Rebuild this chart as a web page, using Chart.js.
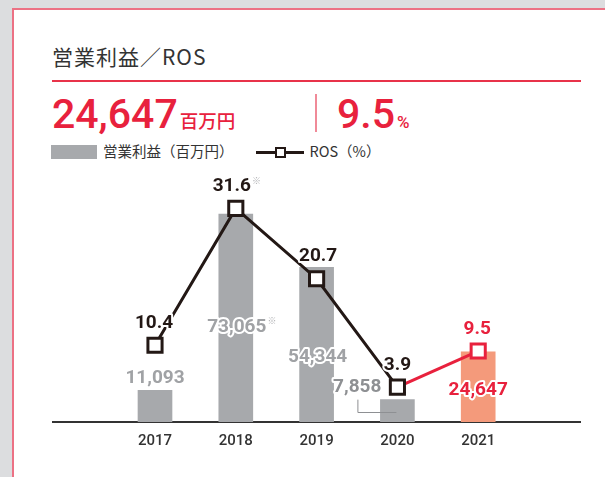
<!DOCTYPE html>
<html>
<head>
<meta charset="utf-8">
<script src="https://cdn.jsdelivr.net/npm/chart.js@4.4.0/dist/chart.umd.min.js"></script>
<style>
  html, body { margin: 0; padding: 0; }
  body {
    width: 605px;
    height: 477px;
    overflow: hidden;
    background: #dcdddf;
    position: relative;
    font-family: "Noto Sans CJK JP", "Noto Sans", sans-serif;
  }
  #card {
    position: absolute;
    left: 12px;
    top: 8px;
    width: 700px;
    height: 600px;
    background: #fff;
    border: 2px solid #ec7184;
  }
  .abs { position: absolute; white-space: nowrap; }
  #title { left: 52px; top: 46px; font-size: 21px; line-height: 21px; color: #333; letter-spacing: 1px; }
  #rule { left: 52px; top: 80px; width: 529px; height: 1.5px; background: #e8334a; }
  .kpi { top: 94px; line-height: 40px; color: #e8213d; }
  .kpi .num { font-family: Roboto, sans-serif; font-weight: 500; font-size: 41px; }
  .kpi .unit { font-size: 18.5px; font-weight: 500; margin-left: 2px; }
  .kpi .pct { font-family: Roboto, sans-serif; font-size: 17px; font-weight: 500; margin-left: 2px; }
  #kpiProfit { left: 52px; }
  #kpiRos { left: 337px; }
  #divider { left: 315px; top: 94px; width: 1.5px; height: 38px; background: #f08a98; }
  #legend { left: 51px; top: 142px; font-size: 14.5px; line-height: 18px; color: #333; }
  #legend .box { display: inline-block; width: 46px; height: 14px; background: #a7a9ac; vertical-align: -2px; margin-right: 6px; }
  #legend .lineKey { display: inline-block; position: relative; width: 48px; height: 14px; vertical-align: -2px; margin-left: 22px; margin-right: 6px; }
  #legend .lineKey::before { content: ""; position: absolute; left: 0; right: 0; top: 6px; height: 3px; background: #231815; }
  #legend .lineKey::after { content: ""; position: absolute; left: 19px; top: 2px; width: 7px; height: 7px; border: 2.5px solid #231815; background: #fff; }
  #chart { position: absolute; left: 0; top: 160px; }
</style>
</head>
<body>
<div id="card"></div>
<div id="title" class="abs">営業利益／ROS</div>
<div id="rule" class="abs"></div>
<div id="kpiProfit" class="abs kpi"><span class="num">24,647</span><span class="unit">百万円</span></div>
<div id="divider" class="abs"></div>
<div id="kpiRos" class="abs kpi"><span class="num">9.5</span><span class="pct">%</span></div>
<div id="legend" class="abs"><span class="box"></span>営業利益（百万円）<span class="lineKey"></span>ROS（%）</div>
<canvas id="chart" width="605" height="317"></canvas>
<script>
const years = ["2017", "2018", "2019", "2020", "2021"];
const operatingProfit = [11093, 73065, 54344, 7858, 24647];
const rosValues = [10.4, 31.6, 20.7, 3.9, 9.5];
const notes = ["", "※", "", "", ""];

const GRAY = "#a7a9ac";
const SALMON = "#f49a7b";
const RED = "#e8213d";
const INK = "#231815";

// where each label sits relative to its bar top / point (px)
const profitLabelPlace = [
  { dx: 0, dy: -12, align: "center", color: "#a0a2a5" },
  { dx: 1, dy: 113, align: "center", color: "#a0a2a5" },
  { dx: 1, dy: 90, align: "center", color: "#a0a2a5" },
  { dx: -16, dy: -12, align: "right", color: "#8e9093" },
  { dx: 0, dy: 38, align: "center", color: RED },
];
const rosLabelPlace = [
  { dx: -1, color: INK },
  { dx: -4, color: INK },
  { dx: 1.5, color: INK },
  { dx: 0, color: INK },
  { dx: -1, color: RED },
];

function fmt(n) {
  return n.toLocaleString("en-US");
}

function haloText(ctx, text, x, y, color) {
  ctx.lineWidth = 4;
  ctx.lineJoin = "round";
  ctx.strokeStyle = "#fff";
  ctx.strokeText(text, x, y);
  ctx.fillStyle = color;
  ctx.fillText(text, x, y);
}

function drawNote(ctx, x, y) {
  ctx.save();
  ctx.font = "9px 'Noto Sans CJK JP'";
  ctx.textAlign = "left";
  ctx.fillStyle = "#b0b1b4";
  ctx.fillText("※", x + 1, y - 6);
  ctx.restore();
}

const labelPlugin = {
  id: "labels",
  beforeDatasetsDraw(chart) {
    // long base line under the bars
    const { ctx } = chart;
    const y0 = chart.scales.y.getPixelForValue(0);
    ctx.save();
    ctx.strokeStyle = "#333";
    ctx.lineWidth = 2;
    ctx.beginPath();
    ctx.moveTo(52, y0);
    ctx.lineTo(581, y0);
    ctx.stroke();
    ctx.restore();
  },
  afterDatasetsDraw(chart) {
    const { ctx } = chart;
    const bars = chart.getDatasetMeta(0).data;
    const pts = chart.getDatasetMeta(1).data;
    ctx.save();
    ctx.font = "bold 19px Roboto";
    ctx.textBaseline = "middle";

    // leader for the small 2020 bar label
    const b3 = bars[3];
    const yBase = chart.scales.y.getPixelForValue(0);
    ctx.strokeStyle = "#8e9093";
    ctx.lineWidth = 1;
    ctx.beginPath();
    ctx.moveTo(b3.x - 39.5, b3.y);
    ctx.lineTo(b3.x - 39.5, yBase - 9.5);
    ctx.lineTo(b3.x - 1, yBase - 9.5);
    ctx.stroke();

    bars.forEach((bar, i) => {
      const p = profitLabelPlace[i];
      const text = fmt(operatingProfit[i]);
      const x = bar.x + p.dx;
      const y = bar.y + p.dy;
      ctx.textAlign = p.align;
      haloText(ctx, text, x, y, p.color);
      if (notes[i]) drawNote(ctx, x + ctx.measureText(text).width / 2, y);
    });

    pts.forEach((pt, i) => {
      const p = rosLabelPlace[i];
      const text = rosValues[i].toFixed(1);
      const x = pt.x + p.dx;
      const y = pt.y - 22;
      ctx.textAlign = "center";
      haloText(ctx, text, x, y, p.color);
      if (notes[i]) drawNote(ctx, x + ctx.measureText(text).width / 2, y);
    });
    ctx.restore();
  },
};

new Chart(document.getElementById("chart"), {
  data: {
    labels: years,
    datasets: [
      {
        type: "bar",
        label: "営業利益（百万円）",
        data: operatingProfit,
        backgroundColor: years.map((y, i) => (i === years.length - 1 ? SALMON : GRAY)),
        barThickness: 34,
        yAxisID: "y",
        order: 2,
      },
      {
        type: "line",
        label: "ROS（%）",
        data: rosValues,
        yAxisID: "yR",
        borderColor: INK,
        borderWidth: 3,
        segment: {
          borderColor: (c) => (c.p1DataIndex === years.length - 1 ? RED : INK),
        },
        pointStyle: "rect",
        pointRadius: 10,
        pointHoverRadius: 10,
        pointBorderWidth: 3,
        pointBackgroundColor: "#fff",
        pointBorderColor: years.map((y, i) => (i === years.length - 1 ? RED : INK)),
        tension: 0,
        order: 1,
      },
    ],
  },
  options: {
    responsive: false,
    animation: false,
    layout: { padding: { left: 114.6, right: 86.4, top: 20, bottom: 25 } },
    plugins: {
      legend: { display: false },
      tooltip: { enabled: false },
    },
    scales: {
      x: {
        grid: { display: false, drawTicks: false },
        border: { display: false },
        ticks: {
          color: "#333",
          font: { family: "Roboto", size: 15, weight: "500" },
          padding: 10,
        },
        afterFit: (scale) => {
          scale.height = 30;
        },
      },
      y: { display: false, min: 0, max: 85000 },
      yR: { display: false, position: "right", min: -1.5, max: 36 },
    },
  },
  plugins: [labelPlugin],
});
</script>
</body>
</html>
